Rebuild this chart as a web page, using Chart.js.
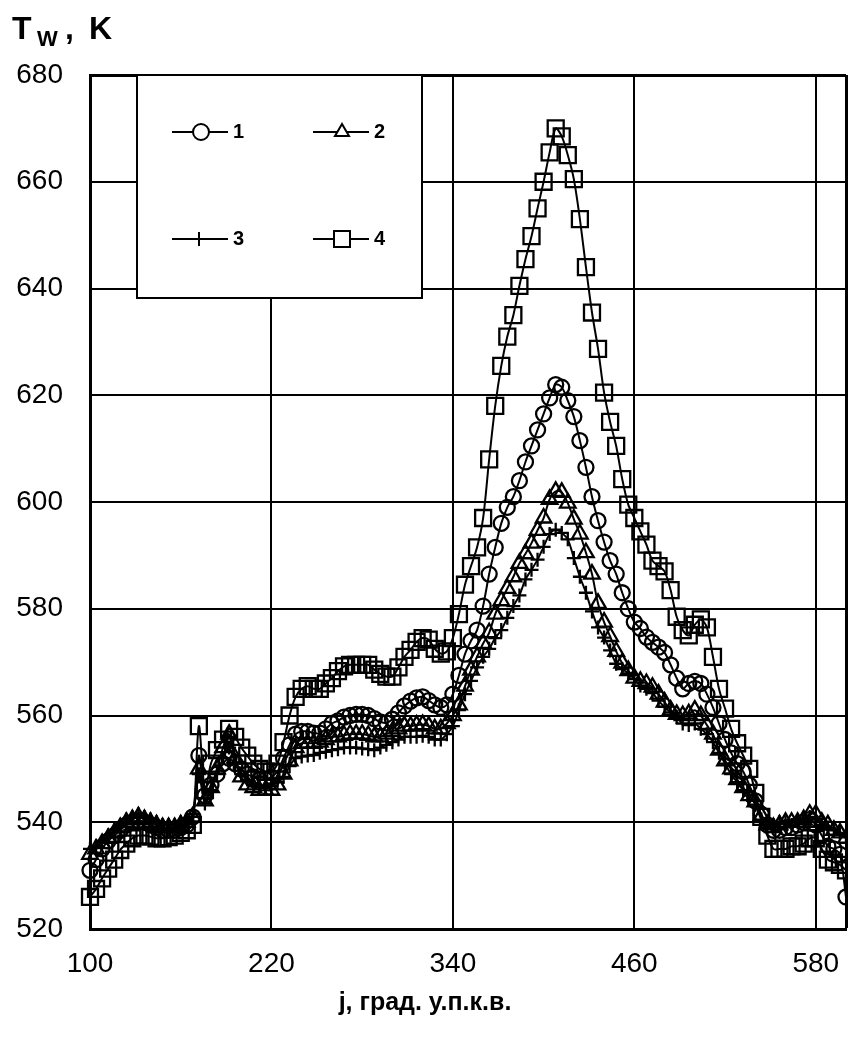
<!DOCTYPE html>
<html>
<head>
<meta charset="utf-8">
<script src="https://cdn.jsdelivr.net/npm/chart.js@4.4.1/dist/chart.umd.min.js"></script>
<style>
  html, body { margin: 0; padding: 0; background: #fff; }
  #wrap { width: 848px; height: 1046px; }
</style>
</head>
<body>
<div id="wrap"><canvas id="graph-tw" width="848" height="1046"></canvas></div>
<script>
// crank angle, deg
var angles = [
  100, 104, 108, 112, 116, 120, 124, 128, 132, 136,
  140, 144, 148, 152, 156, 160, 164, 168, 172, 176,
  180, 184, 188, 192, 196, 200, 204, 208, 212, 216,
  220, 224, 228, 232, 236, 240, 244, 248, 252, 256,
  260, 264, 268, 272, 276, 280, 284, 288, 292, 296,
  300, 304, 308, 312, 316, 320, 324, 328, 332, 336,
  340, 344, 348, 352, 356, 360, 364, 368, 372, 376,
  380, 384, 388, 392, 396, 400, 404, 408, 412, 416,
  420, 424, 428, 432, 436, 440, 444, 448, 452, 456,
  460, 464, 468, 472, 476, 480, 484, 488, 492, 496,
  500, 504, 508, 512, 516, 520, 524, 528, 532, 536,
  540, 544, 548, 552, 556, 560, 564, 568, 572, 576,
  580, 584, 588, 592, 596, 600
];

// wall temperature Tw, K
var tw1 = [
  531, 533, 535, 536.5, 537.5, 538.5, 539.5, 540, 540.3, 540,
  539.5, 539, 538.5, 538.5, 538.5, 539, 539.5, 541, 552.5, 545,
  547, 549, 551, 552, 551, 550, 549, 548.5, 548, 548,
  548.5, 549.5, 552, 554.5, 556.5, 557, 557, 556.7, 556.7, 557.5,
  558.5, 559, 559.7, 560, 560.2, 560.2, 560, 559.4, 558.8, 558.6,
  559.3, 560.5, 561.8, 562.7, 563.3, 563.5, 562.8, 562, 561.5, 562,
  564, 567.5, 571.5, 574, 576, 580.5, 586.5, 591.5, 596, 599,
  601, 604, 607.5, 610.5, 613.5, 616.5, 619.5, 622, 621.5, 619,
  616, 611.5, 606.5, 601, 596.5, 592.5, 589, 586.5, 583, 580,
  577.5, 576.3, 574.7, 573.7, 572.8, 571.8, 569.5, 567, 565, 566,
  566.4, 566, 564, 561.5, 558.5, 555.5, 553, 551, 549.5, 547,
  544, 541.5, 539.5, 538.5, 538.5, 539, 539, 539.5, 540, 540.5,
  539.5, 537.5, 535.5, 535, 534, 526
];
var tw2 = [
  534, 535, 536, 537, 538, 539, 540, 540.5, 541, 540.5,
  540, 539.5, 539, 539, 539, 539.5, 540, 541, 550, 544,
  546.5, 550, 554, 556.5, 552, 548.5, 547, 546.5, 546, 546,
  546, 547, 549, 551.5, 554, 554.8, 554.8, 554.8, 555, 555.5,
  556, 556, 556.3, 556.5, 556.5, 556.5, 556.3, 556, 556, 556.5,
  557, 557.5, 558, 558, 558.2, 558.3, 558, 557.5, 557.5, 558.5,
  560, 562, 565.5, 568.5, 571, 573.5, 575.5, 579, 581.5, 583.8,
  586, 588.5, 590.3, 592.3, 594.7, 597, 600.5, 602, 601.8, 599.8,
  596.8, 594, 590.5, 586.5, 581, 577.5, 574.8, 572, 569.8, 568.4,
  567, 566.4, 566, 565.3, 564, 562.5, 561, 560.2, 560, 560.3,
  561, 560, 558.2, 556.5, 553.5, 551.5, 550, 548, 546.5, 545,
  543.8, 541.2, 539.5, 539, 539.5, 540, 540, 540, 540.5, 541.5,
  541.5, 540, 539.5, 538.5, 538, 537
];
var tw3 = [
  535, 535.5, 536.5, 537.5, 538.5, 539.5, 540.5, 541, 541.5, 541,
  540.5, 540, 539.5, 539.5, 539.5, 540, 540.5, 541.5, 549, 543.5,
  546, 549, 552, 554, 551, 549, 548, 547, 546.5, 546.5,
  546.8, 547.5, 548.5, 550.5, 552, 552.3, 552.5, 552.6, 553, 553.2,
  553.5, 553.7, 554, 554, 554, 553.8, 553.7, 553.5, 554, 554.5,
  555, 555.5, 556, 556, 556, 556.2, 556, 555.5, 555.5, 556.5,
  558, 561, 564, 566.5, 569, 571, 572.5, 574.5, 576, 578.3,
  580.5, 582.5, 585.5, 587.3, 589.2, 591.6, 594, 594.8, 594.2, 593,
  589.5, 586, 583, 579.5, 576.5, 574.6, 572.2, 569.7, 568.7, 567.9,
  566.8, 565.6, 565, 564.2, 562.8, 561.6, 560.6, 559.7, 558.5, 558.2,
  558.5, 557.5, 556.5, 555, 553, 551, 549, 547.5, 546, 545,
  543.3, 540.5, 539, 539.5, 540, 540, 539.5, 540, 540.5, 541,
  540.5, 539.5, 539, 538.5, 538, 537.5
];
var tw4 = [
  526, 527.5, 529.5, 531.3, 533, 534.8, 536, 537, 537.5, 537.5,
  537.3, 537, 537, 537.2, 537.5, 538, 538.5, 539.5, 558, 546,
  551, 553.5, 555.5, 557.5, 556, 554, 552.5, 551, 550, 549.5,
  549.5, 551, 555, 560, 563.5, 565, 565.5, 565, 565, 566,
  567, 568.3, 569.2, 569.5, 569.5, 569.5, 569.5, 568.6, 567.8, 567.3,
  567.3, 569, 571, 572.3, 573.8, 574.5, 574.2, 572.5, 571.6, 572,
  574.5, 579, 584.5, 588, 591.5, 597, 608, 618, 625.5, 631,
  635, 640.5, 645.5, 649.8, 655, 660, 665.5, 670, 668.5, 665,
  660.5, 653, 644, 635.5, 628.7, 620.5, 615, 610.5, 604.3, 599.5,
  597, 594.5, 592, 589, 588, 587, 583.5, 578.5, 576, 575,
  577, 578, 576.5, 571, 565, 561.3, 557.5, 554.8, 552.5, 550,
  545.5, 541, 537.5, 535, 535, 535, 535.5, 535.5, 536, 537,
  537, 535, 533, 532.5, 532, 531
];

var seriesNames = ["1", "2", "3", "4"];
var xTicks = [100, 220, 340, 460, 580, 600];

function pts(ys) {
    return angles.map(function (a, i) { return { x: a, y: ys[i] }; });
}

function makeSet(label, ys, style, r) {
    return {
        label: label,
        data: pts(ys),
        borderColor: "#000",
        borderWidth: 2,
        backgroundColor: "rgba(0,0,0,0)",
        pointStyle: style,
        pointRadius: r,
        pointBorderWidth: 2.3,
        pointBorderColor: "#000",
        pointBackgroundColor: "rgba(0,0,0,0)",
        tension: 0.3,
        fill: false,
        clip: false
    };
}

// legend box drawn inside the plot, 2 x 2
var legendBox = {
    id: "legendBox",
    afterDatasetsDraw: function (chart) {
        var ctx = chart.ctx;
        ctx.save();
        ctx.fillStyle = "#fff";
        ctx.strokeStyle = "#000";
        ctx.lineWidth = 2;
        ctx.fillRect(137, 75, 285, 223);
        ctx.strokeRect(137, 75, 285, 223);

        var items = [
            { x: 172, y: 132, style: "circle" },
            { x: 313, y: 132, style: "triangle" },
            { x: 172, y: 239, style: "cross" },
            { x: 313, y: 239, style: "rect" }
        ];
        ctx.font = "bold 20px 'Liberation Sans', Arial, sans-serif";
        ctx.textBaseline = "middle";
        items.forEach(function (it, i) {
            var cx = it.x + 29;
            ctx.lineWidth = 2;
            ctx.beginPath();
            ctx.moveTo(it.x, it.y);
            ctx.lineTo(it.x + 56, it.y);
            ctx.stroke();
            ctx.beginPath();
            if (it.style === "circle") {
                ctx.fillStyle = "#fff";
                ctx.arc(cx, it.y, 8, 0, Math.PI * 2);
                ctx.fill();
                ctx.stroke();
            } else if (it.style === "triangle") {
                ctx.fillStyle = "#fff";
                ctx.moveTo(cx, it.y - 8);
                ctx.lineTo(cx + 7, it.y + 4);
                ctx.lineTo(cx - 7, it.y + 4);
                ctx.closePath();
                ctx.fill();
                ctx.stroke();
            } else if (it.style === "cross") {
                ctx.moveTo(cx - 2, it.y - 7);
                ctx.lineTo(cx - 2, it.y + 7);
                ctx.stroke();
            } else {
                ctx.fillStyle = "#fff";
                ctx.fillRect(cx - 8, it.y - 8, 16, 16);
                ctx.strokeRect(cx - 8, it.y - 8, 16, 16);
            }
            ctx.fillStyle = "#000";
            ctx.fillText(seriesNames[i], it.x + 61, it.y);
        });
        ctx.restore();
    }
};

// axis captions
var captions = {
    id: "captions",
    afterDraw: function (chart) {
        var ctx = chart.ctx;
        ctx.save();
        ctx.fillStyle = "#000";
        ctx.textBaseline = "alphabetic";
        ctx.font = "bold 32px 'Liberation Sans', Arial, sans-serif";
        ctx.fillText("T", 12, 39);
        ctx.font = "bold 22px 'Liberation Sans', Arial, sans-serif";
        ctx.fillText("W", 37, 46);
        ctx.font = "bold 32px 'Liberation Sans', Arial, sans-serif";
        ctx.fillText(",", 65, 39);
        ctx.fillText("K", 89, 39);

        ctx.font = "bold 25px 'Liberation Sans', Arial, sans-serif";
        ctx.textAlign = "center";
        ctx.textBaseline = "middle";
        ctx.fillText("j, град. у.п.к.в.", 425, 1003);
        ctx.restore();
    }
};

new Chart("graph-tw", {
    type: "line",
    data: {
        datasets: [
            makeSet(seriesNames[0], tw1, "circle", 7.5),
            makeSet(seriesNames[1], tw2, "triangle", 9),
            makeSet(seriesNames[2], tw3, "cross", 7),
            makeSet(seriesNames[3], tw4, "rect", 11.3)
        ]
    },
    options: {
        responsive: false,
        animation: false,
        layout: { autoPadding: false, padding: { top: 75, right: 2, left: 0, bottom: 0 } },
        plugins: { legend: { display: false }, tooltip: { enabled: false } },
        scales: {
            x: {
                type: "linear",
                min: 100,
                max: 600,
                afterBuildTicks: function (s) {
                    s.ticks = xTicks.map(function (v) { return { value: v }; });
                },
                afterFit: function (s) {
                    s.height = 117;
                    s.paddingLeft = 0;
                    s.paddingRight = 0;
                },
                ticks: {
                    color: "#000",
                    padding: 18,
                    maxRotation: 0,
                    autoSkip: false,
                    font: { family: "'Liberation Sans', Arial, sans-serif", size: 28 },
                    callback: function (v) { return v === 600 ? "" : v; }
                },
                grid: {
                    color: "#000",
                    drawTicks: false,
                    lineWidth: function (c) { return c.tick && c.tick.value === 600 ? 3 : 2; }
                },
                border: { color: "#000", width: 3 }
            },
            y: {
                min: 520,
                max: 680,
                afterFit: function (s) {
                    s.width = 90;
                    s.paddingTop = 0;
                    s.paddingBottom = 0;
                },
                ticks: {
                    stepSize: 20,
                    color: "#000",
                    padding: 27,
                    font: { family: "'Liberation Sans', Arial, sans-serif", size: 28 }
                },
                grid: {
                    color: "#000",
                    drawTicks: false,
                    lineWidth: function (c) { return c.tick && c.tick.value === 680 ? 3 : 2; }
                },
                border: { color: "#000", width: 3 }
            }
        }
    },
    plugins: [legendBox, captions]
});
</script>
</body>
</html>
